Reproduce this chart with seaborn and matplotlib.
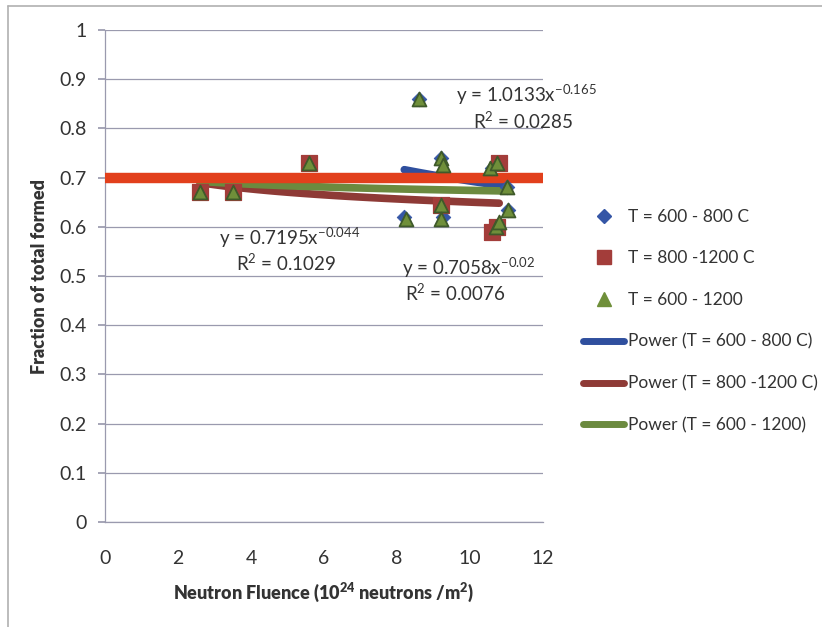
import numpy as np
import pandas as pd
import matplotlib
matplotlib.use("Agg")
import matplotlib.pyplot as plt
from matplotlib.lines import Line2D
import seaborn as sns

# Measured fraction of total formed vs. neutron fluence (10^24 n/m^2)
fluence_600_800 = [8.2, 8.6, 9.2, 9.25, 10.6, 11.0, 11.05]
frac_600_800 = [0.62, 0.86, 0.74, 0.62, 0.72, 0.68, 0.635]

fluence_800_1200 = [2.6, 3.5, 5.6, 9.2, 10.6, 10.75, 10.8]
frac_800_1200 = [0.67, 0.67, 0.73, 0.645, 0.59, 0.60, 0.73]

fluence_600_1200 = [2.6, 3.5, 5.6, 8.25, 8.6, 9.2, 9.25, 9.2, 9.2, 10.55,
                    10.75, 10.7, 10.8, 11.0, 11.05]
frac_600_1200 = [0.67, 0.67, 0.73, 0.615, 0.86, 0.74, 0.725, 0.645, 0.615,
                 0.72, 0.73, 0.60, 0.61, 0.68, 0.635]

# Power-law trendline coefficients y = a * x^b
fit_a = {"600-800": 1.0133, "800-1200": 0.7195, "600-1200": 0.7058}
fit_b = {"600-800": -0.165, "800-1200": -0.044, "600-1200": -0.02}
fit_r2 = {"600-800": "0.0285", "800-1200": "0.1029", "600-1200": "0.0076"}

reference_level = 0.70

series_labels = ["T = 600 - 800 C", "T = 800 -1200 C", "T = 600 - 1200"]
trend_labels = ["Power (T = 600 - 800 C)", "Power (T = 800 -1200 C)",
                "Power (T = 600 - 1200)"]

sns.set_theme(style="white")
plt.rcParams["font.family"] = ["Lato", "DejaVu Sans"]
plt.rcParams["mathtext.default"] = "regular"
plt.rcParams["axes.unicode_minus"] = False

c_blue, c_red, c_green = "#3556a6", "#a33d3a", "#6f8f3a"
c_blue_l, c_red_l, c_green_l = "#2f4f9e", "#8e3a36", "#6b8a3f"
c_ref = "#e2401c"
grid_c = "#9a9aae"
text_c = "#333333"

fig = plt.figure(figsize=(8.22, 6.27), dpi=100)
ax = fig.add_axes([105 / 822, 1 - 522 / 627, 438 / 822, 492 / 627])

df1 = pd.DataFrame({"x": fluence_600_800, "y": frac_600_800})
df2 = pd.DataFrame({"x": fluence_800_1200, "y": frac_800_1200})
df3 = pd.DataFrame({"x": fluence_600_1200, "y": frac_600_1200})

# reference line at 0.7, drawn over the trendlines
ax.axhline(reference_level, color=c_ref, lw=7.5, zorder=3.5, solid_capstyle="butt")

# trendlines over each series' fluence range
keys = ["600-800", "800-1200", "600-1200"]
dfs = [df1, df2, df3]
lcols = [c_blue_l, c_red_l, c_green_l]
for k, d, col in zip(keys, dfs, lcols):
    xs = np.linspace(min(d["x"]), max(d["x"]), 100)
    ys = fit_a[k] * xs ** fit_b[k]
    sns.lineplot(x=xs, y=ys, ax=ax, color=col, lw=5.5, zorder=3)

sns.scatterplot(data=df1, x="x", y="y", ax=ax, marker="D", s=55, color=c_blue,
                edgecolor=c_blue, zorder=4)
sns.scatterplot(data=df2, x="x", y="y", ax=ax, marker="s", s=120, color=c_red,
                edgecolor=c_red, zorder=5)
sns.scatterplot(data=df3, x="x", y="y", ax=ax, marker="^", s=100, color=c_green,
                edgecolor="#3f5a2a", linewidth=1.3, zorder=6)

ax.set_xlim(0, 12)
ax.set_ylim(0, 1)
ax.set_xticks(np.arange(0, 13, 2))
ax.set_yticks(np.round(np.arange(0, 1.01, 0.1), 1))
ax.set_yticklabels(["0"] + [f"{v:.1f}" for v in np.arange(0.1, 0.95, 0.1)] + ["1"])
ax.yaxis.grid(True, color=grid_c, lw=0.9)
ax.xaxis.grid(False)
for s in ["top", "right"]:
    ax.spines[s].set_visible(False)
for s in ["left", "bottom"]:
    ax.spines[s].set_color(grid_c)
    ax.spines[s].set_linewidth(0.9)
ax.tick_params(axis="y", left=True, length=5, color=grid_c, labelsize=14,
               labelcolor=text_c, pad=8)
ax.tick_params(axis="x", bottom=False, labelsize=14, labelcolor=text_c, pad=14)

ax.set_xlabel("Neutron Fluence (10$^{24}$ neutrons /m$^{2}$)", fontsize=13,
              fontweight="heavy", color=text_c, labelpad=10)
ax.set_ylabel("Fraction of total formed", fontsize=13, fontweight="heavy",
              color=text_c, labelpad=8)

# trendline equations
def eq(k):
    return f"y = {fit_a[k]:.4f}x$^{{{fit_b[k]:g}}}$"

tkw = dict(fontsize=13.5, color=text_c, ha="center", va="center", clip_on=False)
ax.text(11.55, 0.868, eq("600-800"), **tkw)
ax.text(11.45, 0.815, f"R$^2$ = {fit_r2['600-800']}", **tkw)
ax.text(5.05, 0.578, eq("800-1200"), **tkw)
ax.text(4.95, 0.527, f"R$^2$ = {fit_r2['800-1200']}", **tkw)
ax.text(9.95, 0.517, eq("600-1200"), **tkw)
ax.text(9.6, 0.465, f"R$^2$ = {fit_r2['600-1200']}", **tkw)

handles = [
    Line2D([], [], ls="", marker="D", ms=7, color=c_blue),
    Line2D([], [], ls="", marker="s", ms=10, color=c_red),
    Line2D([], [], ls="", marker="^", ms=10, color=c_green),
    Line2D([], [], color=c_blue_l, lw=5),
    Line2D([], [], color=c_red_l, lw=5),
    Line2D([], [], color=c_green_l, lw=5),
]
leg = fig.legend(handles, series_labels + trend_labels, loc="upper left",
                 bbox_to_anchor=(574 / 822, 1 - 200 / 627), frameon=False,
                 fontsize=12.5, labelspacing=1.48, handlelength=2.4,
                 handletextpad=0.2, borderpad=0)
for t in leg.get_texts():
    t.set_color(text_c)

# outer chart frame
frame_c = "#b0b0b0"
fig.add_artist(Line2D([8 / 822, 1], [1 - 6 / 627, 1 - 6 / 627],
                      transform=fig.transFigure, color=frame_c, lw=1.2))
fig.add_artist(Line2D([8 / 822, 8 / 822], [1 - 6 / 627, 0],
                      transform=fig.transFigure, color=frame_c, lw=1.2))

fig.savefig("out.png", dpi=100)
